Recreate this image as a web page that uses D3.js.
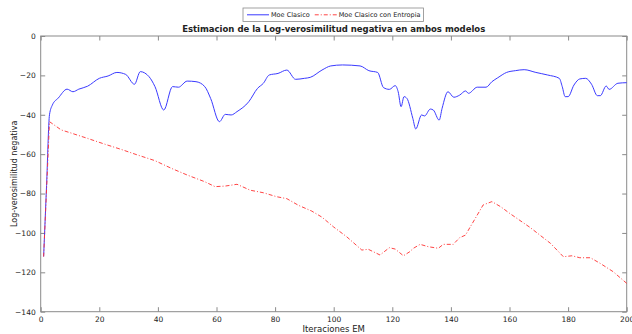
<!DOCTYPE html>
<html>
<head>
<meta charset="utf-8">
<script src="https://cdn.jsdelivr.net/npm/d3@7"></script>
<style>
  body { margin: 0; background: #fff; }
  text { font-family: "DejaVu Sans", sans-serif; fill: #222; }
</style>
</head>
<body>
<svg id="chart" width="632" height="334"></svg>
<script>
// Moe Clasico (blue, solid)
var iterClasico = [1, 2, 3, 4, 6, 9, 11, 13, 16, 20, 23, 26, 29, 32, 34, 37, 39, 42, 45, 47, 50, 53, 56, 58, 61, 63, 65, 67, 71, 74, 76, 78, 81, 84, 87, 90, 92, 96, 99, 103, 109, 112, 115, 117, 119, 121, 122, 123, 124, 125, 127, 128, 130, 131, 133, 134, 136, 137, 139, 141, 143, 145, 146, 149, 152, 154, 156, 159, 162, 165, 169, 173, 177, 178, 179, 180, 182, 184, 186, 188, 190, 191, 193, 194, 197, 200];
var valClasico = [-112, -76, -40, -35, -31.5, -27, -28.3, -27, -25.5, -21.5, -20.3, -18.5, -19.5, -24.5, -18.1, -20.7, -25.7, -37.6, -25.7, -26, -22.9, -23.2, -25.7, -31.7, -43.5, -39.8, -40.1, -38.4, -33.4, -26.6, -24, -19.8, -19, -17.3, -22, -21.5, -21, -17.3, -15.2, -14.7, -15.2, -17.6, -18.5, -26.2, -27.1, -25.2, -28.3, -35.9, -30.8, -31.7, -41.8, -47.2, -40.1, -40.6, -37.1, -37.6, -42.7, -36.7, -28.3, -31.1, -30, -27.9, -29.1, -26, -26, -23.2, -21.2, -18.5, -17.6, -17.1, -18.5, -19.8, -21.5, -25.7, -30.8, -30.8, -24.9, -21.8, -21.5, -24.5, -30.3, -30.3, -25.4, -27.1, -24, -23.7];

// Moe Clasico con Entropia (red, dash-dot)
var iterEntropia = [1, 2, 3, 7, 10, 16, 22, 27.5, 33, 39, 44.6, 50, 56, 59.5, 63, 67, 71.5, 76, 80.5, 84, 88, 92.5, 96, 100, 104.4, 109.6, 111.8, 115.8, 119, 121, 123.8, 126, 127.2, 129.5, 132.3, 135.7, 137.4, 140.8, 143, 145, 146.5, 149, 151, 154, 157, 160, 167, 174, 178.4, 181.3, 184, 187.6, 191, 195.4, 200];
var valEntropia = [-112, -78, -43.5, -47.7, -49.1, -52, -55, -57.6, -60.4, -63.3, -67.2, -70.6, -74, -76.5, -76.2, -75.3, -78.3, -79.6, -81.6, -82.6, -86, -88.9, -92, -97, -101.9, -108.7, -108.3, -111.2, -107.5, -108.2, -111.6, -109.5, -107.8, -105.8, -107, -107.8, -105.8, -105.8, -102.4, -101.1, -97.2, -90.9, -85.8, -84.1, -86.7, -90, -97.2, -105.3, -112.1, -111.6, -112.6, -112.6, -115.5, -119.7, -125.6];

var xTicks = [0, 20, 40, 60, 80, 100, 120, 140, 160, 180, 200];
var yTicks = [0, -20, -40, -60, -80, -100, -120, -140];
var seriesNames = ["Moe Clasico", "Moe Clasico con Entropia"];
var seriesColors = ["#3a3aff", "#ff3030"];
var seriesDash = [null, "4,2,1,2"];

var svg = d3.select("#chart");
var plotL = 40.7, plotR = 626.7, plotT = 36, plotB = 311.7;

var x = d3.scaleLinear().domain([0, 200]).range([plotL, plotR]);
var y = d3.scaleLinear().domain([-140, 0]).range([plotB, plotT]);

// frame
svg.append("rect")
  .attr("x", plotL).attr("y", plotT)
  .attr("width", plotR - plotL).attr("height", plotB - plotT)
  .attr("fill", "none").attr("stroke", "#8a8a8a").attr("stroke-width", 1);

// axes, ticks inward on all sides
var tickLen = 4.5;
var axB = svg.append("g").attr("transform", "translate(0," + plotB + ")")
  .call(d3.axisBottom(x).tickValues(xTicks).tickSizeInner(-tickLen).tickSizeOuter(0).tickPadding(4.5));
var axT = svg.append("g").attr("transform", "translate(0," + plotT + ")")
  .call(d3.axisTop(x).tickValues(xTicks).tickSizeInner(-tickLen).tickSizeOuter(0).tickFormat(""));
var axL = svg.append("g").attr("transform", "translate(" + plotL + ",0)")
  .call(d3.axisLeft(y).tickValues(yTicks).tickSizeInner(-tickLen).tickSizeOuter(0).tickPadding(5));
var axR = svg.append("g").attr("transform", "translate(" + plotR + ",0)")
  .call(d3.axisRight(y).tickValues(yTicks).tickSizeInner(-tickLen).tickSizeOuter(0).tickFormat(""));

[axB, axT, axL, axR].forEach(function(a){
  a.select(".domain").remove();
  a.selectAll("line").attr("stroke", "#8a8a8a");
  a.selectAll("text").style("font-size", "7.5px").attr("fill", "#333");
});

// lines
var lineC = d3.line().x(function(d){ return x(d[0]); }).y(function(d){ return y(d[1]); })
  .curve(d3.curveMonotoneX);
var lineE = d3.line().x(function(d){ return x(d[0]); }).y(function(d){ return y(d[1]); });

var dataC = d3.zip(iterClasico, valClasico);
var dataE = d3.zip(iterEntropia, valEntropia);

svg.append("path").datum(dataC)
  .attr("d", lineC).attr("fill", "none")
  .attr("stroke", seriesColors[0]).attr("stroke-width", 1);

svg.append("path").datum(dataE)
  .attr("d", lineE).attr("fill", "none")
  .attr("stroke", seriesColors[1]).attr("stroke-width", 0.9)
  .attr("stroke-dasharray", seriesDash[1]);

// title
svg.append("text")
  .attr("x", (plotL + plotR) / 2).attr("y", 32)
  .attr("text-anchor", "middle")
  .style("font-size", "8.5px").style("font-weight", "bold").attr("fill", "#111")
  .text("Estimacion de la Log-verosimilitud negativa en ambos modelos");

// axis labels
svg.append("text")
  .attr("x", (plotL + plotR) / 2).attr("y", 331.5)
  .attr("text-anchor", "middle")
  .style("font-size", "8.5px").attr("fill", "#333")
  .text("Iteraciones EM");

svg.append("text")
  .attr("transform", "translate(17," + ((plotT + plotB) / 2) + ") rotate(-90)")
  .attr("text-anchor", "middle")
  .style("font-size", "8px").attr("fill", "#333")
  .text("Log-verosimilitud negativa");

// legend, laid out from measured text widths
var lg = svg.append("g");
var box = lg.append("rect")
  .attr("y", 8).attr("height", 13.5)
  .attr("fill", "#fff").attr("stroke", "#8a8a8a").attr("stroke-width", 0.8);
var cx = 247, sampleW = 22;
seriesNames.forEach(function(name, i){
  var ln = lg.append("line").attr("x1", cx).attr("x2", cx + sampleW).attr("y1", 14.8).attr("y2", 14.8)
    .attr("stroke", seriesColors[i]).attr("stroke-width", i ? 0.9 : 1);
  if (seriesDash[i]) ln.attr("stroke-dasharray", seriesDash[i]);
  var t = lg.append("text").attr("x", cx + sampleW + 2).attr("y", 17.3)
    .style("font-size", "6.5px").attr("fill", "#222").text(name);
  cx += sampleW + 2 + t.node().getComputedTextLength() + 5;
});
box.attr("x", 243).attr("width", cx - 243 - 2);
</script>
</body>
</html>
